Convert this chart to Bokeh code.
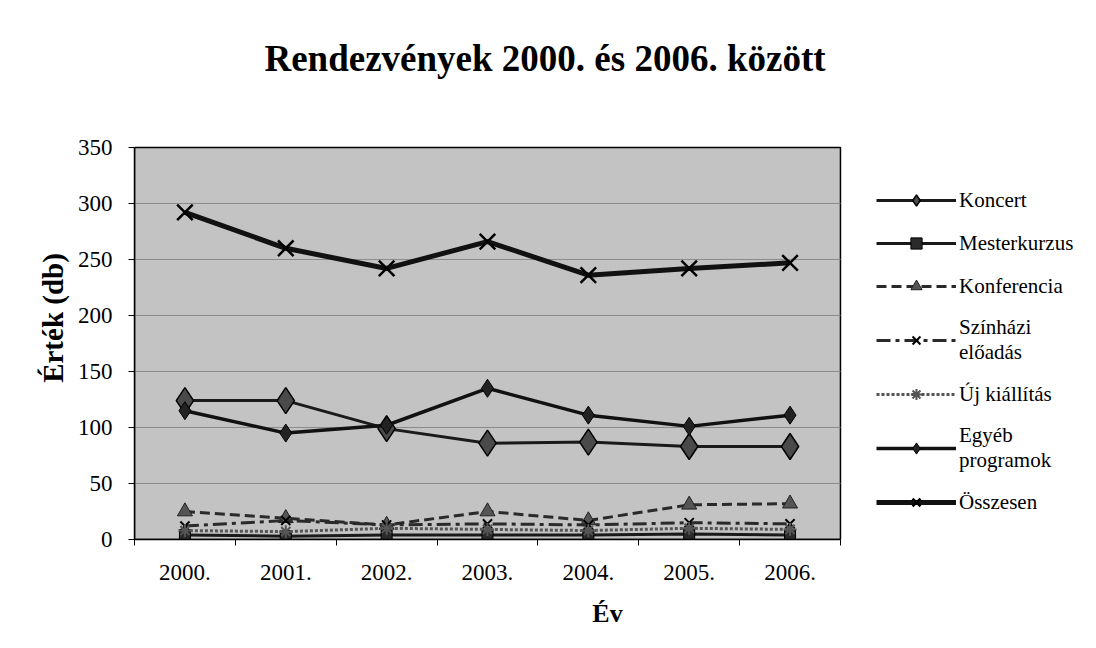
import numpy as np
from bokeh.plotting import figure
from bokeh.models import Range1d, FixedTicker, Legend, LegendItem, Div
from bokeh.layouts import column
from bokeh.embed import file_html
from bokeh.resources import INLINE

years = ["2000.", "2001.", "2002.", "2003.", "2004.", "2005.", "2006."]
koncert = [124, 124, 99, 86, 87, 83, 83]
mesterkurzus = [4, 3, 4, 4, 4, 5, 4]
konferencia = [25, 19, 13, 25, 17, 31, 32]
szinhazi = [12, 17, 13, 14, 13, 15, 14]
uj_kiallitas = [8, 7, 10, 9, 8, 10, 9]
egyeb = [115, 95, 102, 135, 111, 101, 111]
osszesen = [292, 260, 242, 266, 236, 242, 247]
y_ticks = [0, 50, 100, 150, 200, 250, 300, 350]
title_text = "Rendezvények 2000. és 2006. között"

SERIF = "Liberation Serif"
n = len(years)
x = np.arange(n) + 0.5
y_max = y_ticks[-1]

title = Div(text=('<div style="font-family:\'Liberation Serif\';font-size:37px;'
                  'font-weight:bold;text-align:center;width:1080px;'
                  'margin-top:34px;line-height:40px;color:black;">'
                  + title_text + '</div>'),
            width=1080, height=86)

# frame spans the whole canvas right of the y axis; the grey plot area is a quad
p = figure(width=1080, height=546, output_backend="svg", toolbar_location=None,
           x_range=Range1d(0, 9.38), y_range=Range1d(0, 395.5),
           min_border_left=134, min_border_top=0, min_border_right=0,
           min_border_bottom=103)
p.background_fill_color = "white"
p.border_fill_color = "white"
p.outline_line_color = None
p.xgrid.grid_line_color = None
p.ygrid.grid_line_color = None

# plot area
p.quad(left=0, right=n, bottom=0, top=y_max, fill_color="#c3c3c3",
       line_color="black", line_width=1.5, level="image")
p.segment(x0=0, x1=n, y0=y_ticks[1:-1], y1=y_ticks[1:-1],
          line_color="#8a8a8a", line_width=1, level="underlay")

# axes
p.xaxis.bounds = (0, n)
p.yaxis.bounds = (0, y_max)
p.xaxis.ticker = FixedTicker(ticks=list(x), minor_ticks=list(range(n + 1)))
p.xaxis.major_label_overrides = {float(v): lab for v, lab in zip(x, years)}
p.xaxis.major_tick_out = 0
p.xaxis.major_tick_in = 0
p.xaxis.minor_tick_out = 6
p.xaxis.minor_tick_in = 0
p.xaxis.minor_tick_line_color = "black"
p.xaxis.axis_label = "Év"
p.yaxis.axis_label = "Érték (db)"
p.yaxis.ticker = FixedTicker(ticks=y_ticks)
p.yaxis.minor_tick_line_color = None
p.yaxis.major_tick_out = 6
p.yaxis.major_tick_in = 0
for ax in (p.xaxis, p.yaxis):
    ax.axis_line_color = "black"
    ax.axis_line_width = 1.5
    ax.major_tick_line_color = "black"
    ax.major_label_text_font = SERIF
    ax.major_label_text_font_size = "23px"
    ax.major_label_text_color = "black"
    ax.axis_label_text_font = SERIF
    ax.axis_label_text_font_style = "bold"
    ax.axis_label_text_color = "black"
p.xaxis.major_label_standoff = 19
p.yaxis.major_label_standoff = 16
p.xaxis.axis_label_standoff = 16
p.yaxis.axis_label_standoff = 6
p.xaxis.axis_label_text_font_size = "26px"
p.yaxis.axis_label_text_font_size = "29px"

items = []

def series(label, vals, line_kw, marker_kw):
    r1 = p.line(x, vals, **line_kw)
    r2 = p.scatter(x, vals, **marker_kw)
    items.append(LegendItem(label=label, renderers=[r1, r2]))

series("Koncert", koncert,
       dict(line_color="#1a1a1a", line_width=3),
       dict(marker="diamond", size=26, fill_color="#4a4a4a", line_color="black", line_width=1.5))
series("Mesterkurzus", mesterkurzus,
       dict(line_color="#1a1a1a", line_width=3),
       dict(marker="square", size=11, fill_color="#2a2a2a", line_color="black"))
series("Konferencia", konferencia,
       dict(line_color="#2a2a2a", line_width=3, line_dash="10 5"),
       dict(marker="triangle", size=15, fill_color="#555555", line_color="#222222"))
series("Színházi\nelőadás", szinhazi,
       dict(line_color="#2a2a2a", line_width=3, line_dash="14 5 4 5"),
       dict(marker="x", size=13, line_color="black", line_width=2))
series("Új kiállítás", uj_kiallitas,
       dict(line_color="#555555", line_width=3, line_dash="3 2"),
       dict(marker="asterisk", size=13, line_color="#555555", line_width=2))
series("Egyéb\nprogramok", egyeb,
       dict(line_color="#111111", line_width=3.5),
       dict(marker="diamond", size=18, fill_color="#222222", line_color="black"))
series("Összesen", osszesen,
       dict(line_color="#111111", line_width=5),
       dict(marker="x", size=22, line_color="black", line_width=2.5))

legend = Legend(items=items, location=(742, 23))
legend.margin = 0
legend.padding = 0
legend.border_line_color = None
legend.background_fill_alpha = 0
legend.glyph_width = 80
legend.glyph_height = 28
legend.label_height = 28
legend.label_standoff = 3
legend.spacing = 15
legend.label_text_font = SERIF
legend.label_text_font_size = "21px"
legend.label_text_color = "black"
legend.label_text_line_height = 1.0
p.add_layout(legend)

layout = column(title, p, spacing=0)
open("out.html", "w").write(file_html(layout, INLINE))
